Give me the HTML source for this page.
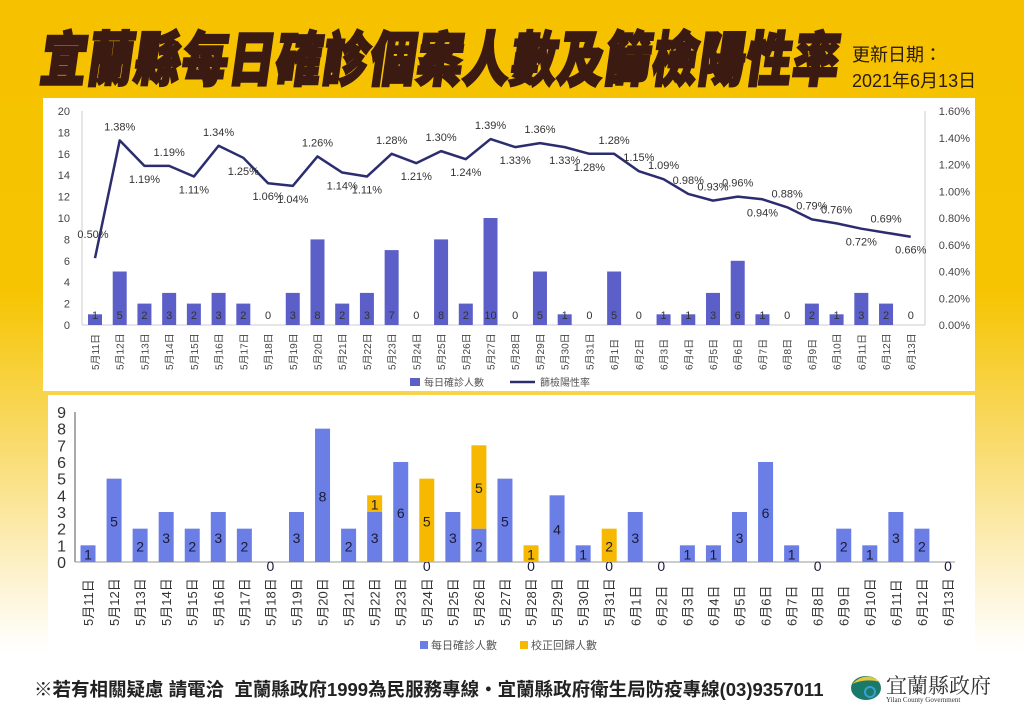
<!DOCTYPE html>
<html><head><meta charset="utf-8">
<style>
html,body{margin:0;padding:0;}
body{width:1024px;height:724px;overflow:hidden;position:relative;
background:linear-gradient(180deg,#f6c200 0%,#f6c400 40%,#f9dc70 62%,#fdf3d0 80%,#ffffff 90%);
font-family:"Liberation Sans","Noto Sans CJK TC",sans-serif;}
.title{position:absolute;left:48px;top:14px;font-family:"Noto Sans CJK TC","WenQuanYi Zen Hei",sans-serif;font-weight:900;font-size:46px;color:#3b1a12;letter-spacing:1px;transform:skewX(-8deg) scaleY(1.28);transform-origin:left top;white-space:nowrap;-webkit-text-stroke:2px #3b1a12;}
.upd{position:absolute;left:852px;top:42px;font-size:18px;color:#2a1a10;line-height:26px;font-family:"Liberation Sans","Noto Sans CJK TC",sans-serif;}
.foot{position:absolute;left:34px;top:676px;font-size:18.5px;font-weight:bold;color:#222;white-space:nowrap;font-family:"Liberation Sans","Noto Sans CJK TC",sans-serif;}
svg{position:absolute;left:0;top:0;}
</style></head><body>
<div class="title">宜蘭縣每日確診個案人數及篩檢陽性率</div>
<div class="upd">更新日期：<br>2021年6月13日</div>
<svg id="s" width="1024" height="724" xmlns="http://www.w3.org/2000/svg"></svg>
<div class="foot">※若有相關疑慮 請電洽&nbsp; 宜蘭縣政府1999為民服務專線・宜蘭縣政府衛生局防疫專線(03)9357011</div>
<script>
const NS="http://www.w3.org/2000/svg";const s=document.getElementById('s');
function el(t,a,txt){const e=document.createElementNS(NS,t);for(const k in a)e.setAttribute(k,a[k]);if(txt!==undefined)e.textContent=txt;s.appendChild(e);return e;}
el('rect',{x:43,y:98,width:932,height:293,fill:'#fff'});
el('rect',{x:48,y:395,width:927,height:265,fill:'#fff'});
const dates=[];for(let d=11;d<=31;d++)dates.push([5,d]);for(let d=1;d<=13;d++)dates.push([6,d]);
const t0=325,tpu=10.7,tx0=95,tdx=24.72;
for(let i=0;i<=10;i++){el('text',{x:70,y:t0-i*2*tpu+4,'text-anchor':'end','font-size':11,fill:'#444'},String(i*2));}
for(let i=0;i<=8;i++){el('text',{x:970,y:t0-i*26.75+4,'text-anchor':'end','font-size':11,fill:'#444'},(i*0.2).toFixed(2)+'%');}
el('line',{x1:82,y1:111,x2:82,y2:t0,stroke:'#ccc'});
el('line',{x1:925,y1:111,x2:925,y2:t0,stroke:'#ccc'});
el('line',{x1:82,y1:t0,x2:925,y2:t0,stroke:'#ccc'});
const tb=[1,5,2,3,2,3,2,0,3,8,2,3,7,0,8,2,10,0,5,1,0,5,0,1,1,3,6,1,0,2,1,3,2,0];
tb.forEach((v,i)=>{const x=tx0+i*tdx;if(v>0)el('rect',{x:x-7,y:t0-v*tpu,width:14,height:v*tpu,fill:'#5c5fc8'});
el('text',{x:x,y:319,'text-anchor':'middle','font-size':11,fill:'#333'},String(v));
el('text',{x:0,y:0,'font-size':10,fill:'#444',transform:`translate(${x+4},${370}) rotate(-90)`},dates[i][0]+'月'+dates[i][1]+'日');});
const tl=[0.50,1.38,1.19,1.19,1.11,1.34,1.25,1.06,1.04,1.26,1.14,1.11,1.28,1.21,1.30,1.24,1.39,1.33,1.36,1.33,1.28,1.28,1.15,1.09,0.98,0.93,0.96,0.94,0.88,0.79,0.76,0.72,0.69,0.66];
const pos="aabababbbabbababababbaaaaaabaaabab".split('');
let pts=tl.map((v,i)=>[tx0+i*tdx,t0-v/1.6*214]);
el('polyline',{points:pts.map(p=>p.join(',')).join(' '),fill:'none',stroke:'#2b2d6e','stroke-width':2.5,'stroke-linejoin':'round'});
tl.forEach((v,i)=>{const p=pts[i];const dy=pos[i]==='a'?-10:17;el('text',{x:p[0]+(i===0?-2:0),y:p[1]+dy+(i===0?-10:0),'text-anchor':'middle','font-size':11,fill:'#333'},v.toFixed(2)+'%');});
el('rect',{x:410,y:378,width:10,height:8,fill:'#5c5fc8'});
el('text',{x:424,y:386,'font-size':10,fill:'#555'},'每日確診人數');
el('line',{x1:510,y1:382,x2:535,y2:382,stroke:'#2b2d6e','stroke-width':2.5});
el('text',{x:540,y:386,'font-size':10,fill:'#555'},'篩檢陽性率');
const b0=562,bpu=16.67,bx0=88,bdx=26.06;
for(let i=0;i<=9;i++)el('text',{x:66,y:b0-i*bpu+6,'text-anchor':'end','font-size':16,fill:'#333'},String(i));
el('line',{x1:75,y1:412,x2:75,y2:b0,stroke:'#555'});
el('line',{x1:75,y1:b0,x2:955,y2:b0,stroke:'#999'});
const bb=[1,5,2,3,2,3,2,0,3,8,2,3,6,0,3,2,5,0,4,1,0,3,0,1,1,3,6,1,0,2,1,3,2,0];
const by={11:1,13:5,15:5,17:1,20:2};
bb.forEach((v,i)=>{const x=bx0+i*bdx;if(v>0){el('rect',{x:x-7.5,y:b0-v*bpu,width:15,height:v*bpu,fill:'#6b7ee6'});}
const ty=v>0?b0-v*bpu/2+6:b0+9;
el('text',{x:x,y:ty,'text-anchor':'middle','font-size':14,fill:'#1a1a3a'},String(v));
if(by[i]){const h=by[i]*bpu;el('rect',{x:x-7.5,y:b0-v*bpu-h,width:15,height:h,fill:'#f6b800'});
el('text',{x:x,y:b0-v*bpu-h/2+6,'text-anchor':'middle','font-size':14,fill:'#222'},String(by[i]));}
el('text',{x:0,y:0,'font-size':13,fill:'#333',transform:`translate(${x+5},${626}) rotate(-90)`},dates[i][0]+'月'+dates[i][1]+'日');});
el('rect',{x:420,y:641,width:8,height:8,fill:'#6b7ee6'});
el('text',{x:431,y:649,'font-size':11,fill:'#555'},'每日確診人數');
el('rect',{x:520,y:641,width:8,height:8,fill:'#f6b800'});
el('text',{x:531,y:649,'font-size':11,fill:'#555'},'校正回歸人數');
el('ellipse',{cx:866,cy:688,rx:15,ry:12,fill:'#1a7a6a'});
el('path',{d:'M852 684 Q866 670 880 682 Q866 678 852 684Z',fill:'#e6c63a'});
el('circle',{cx:870,cy:692,r:5,fill:'none',stroke:'#3aa0d0','stroke-width':2});
el('text',{x:886,y:693,'font-size':21,fill:'#333','font-family':'Noto Serif CJK SC,serif'},'宜蘭縣政府');
el('text',{x:886,y:702,'font-size':7,fill:'#333','font-family':'Liberation Serif,serif'},'Yilan County Government');
</script>
</body></html>
